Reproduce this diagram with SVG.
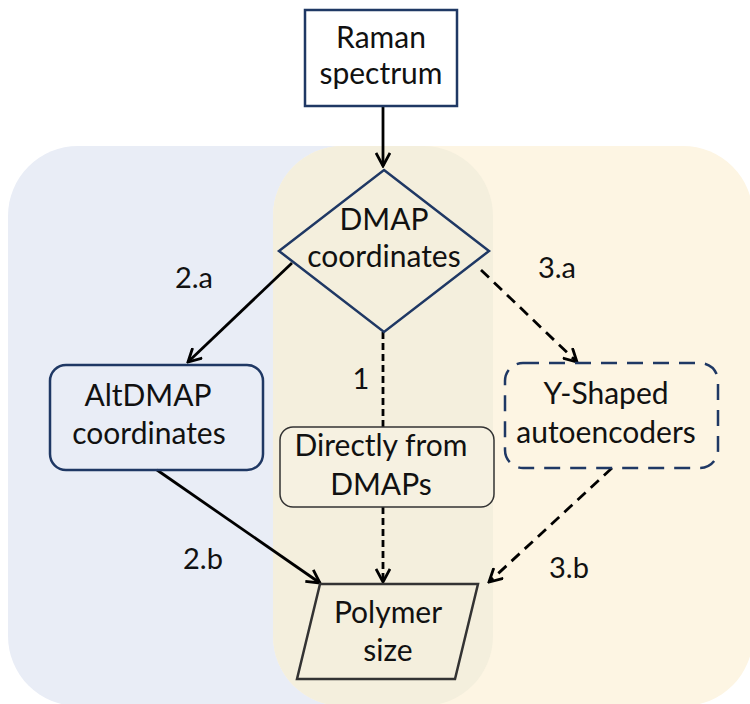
<svg xmlns="http://www.w3.org/2000/svg" width="750" height="704" viewBox="0 0 750 704">
<defs>
<style>
text{font-family:Lato,"Liberation Sans",sans-serif;font-size:30px;fill:#111;text-anchor:middle}
.lbl{font-size:29px}
.nav{stroke:#1f3864;stroke-width:2.5;fill:none}
.con{stroke:#000;stroke-width:2.8;fill:none}
.dash{stroke-dasharray:7 4}
.dash2{stroke-dasharray:11 7}
</style>
<marker id="ah" viewBox="0 0 16 16" markerWidth="16" markerHeight="16" refX="14" refY="8" orient="auto" markerUnits="userSpaceOnUse">
<path d="M1,1 L14,8 L1,15" fill="none" stroke="#000" stroke-width="2.8"/>
</marker>
</defs>
<g id="background">
<rect x="8" y="146" width="485" height="560" rx="70" fill="#e9edf6"/>
<rect x="273" y="146" width="480" height="560" rx="70" fill="#fdf5e3"/>
<rect x="273" y="146" width="220" height="560" rx="70" fill="#f4efdd"/>
</g>
<g id="connectors">
<line class="con" x1="383" y1="106" x2="383" y2="166" marker-end="url(#ah)"/>
<line class="con" x1="292" y1="263" x2="188" y2="362" marker-end="url(#ah)"/>
<line class="con dash2" x1="481" y1="270" x2="577" y2="362" marker-end="url(#ah)"/>
<line class="con dash" x1="383" y1="332" x2="383" y2="427"/>
<line class="con dash" x1="383" y1="507" x2="383" y2="582" marker-end="url(#ah)"/>
<line class="con" x1="157" y1="470" x2="320" y2="583" marker-end="url(#ah)"/>
<line class="con dash2" x1="612" y1="468" x2="489" y2="582" marker-end="url(#ah)"/>
<text class="lbl" x="194" y="288">2.a</text>
<text class="lbl" x="557" y="278">3.a</text>
<text class="lbl" x="361" y="389">1</text>
<text class="lbl" x="203" y="569">2.b</text>
<text class="lbl" x="569" y="578">3.b</text>
</g>
<g id="raman">
<rect x="305" y="10" width="152" height="96" fill="#fff" class="nav" stroke-width="2"/>
<text x="381" y="48">Raman</text>
<text x="381" y="84">spectrum</text>
</g>
<g id="dmap">
<polygon points="384,170 489,251 384,332 279,251" fill="#f4efdd" class="nav"/>
<text x="384" y="230">DMAP</text>
<text x="384" y="267">coordinates</text>
</g>
<g id="altdmap">
<rect x="50" y="365" width="213" height="105" rx="16" fill="#e9edf6" class="nav" stroke-width="3"/>
<text x="148" y="406">AltDMAP</text>
<text x="149" y="444">coordinates</text>
</g>
<g id="direct">
<rect x="280" y="427" width="214" height="80" rx="13" fill="#f6f1e1" stroke="#333" stroke-width="1.5"/>
<text x="381" y="456">Directly from</text>
<text x="381" y="495">DMAPs</text>
</g>
<g id="yshaped">
<rect x="505" y="363" width="213" height="105" rx="18" fill="#fdf5e3" class="nav" stroke-width="3" stroke-dasharray="16 10"/>
<text x="606" y="404">Y-Shaped</text>
<text x="606" y="443">autoencoders</text>
</g>
<g id="polymer">
<polygon points="320,584 478,584 455,679 297,679" fill="#f4efdd" stroke="#333" stroke-width="2.5"/>
<text x="388" y="623">Polymer</text>
<text x="388" y="661">size</text>
</g>
</svg>
